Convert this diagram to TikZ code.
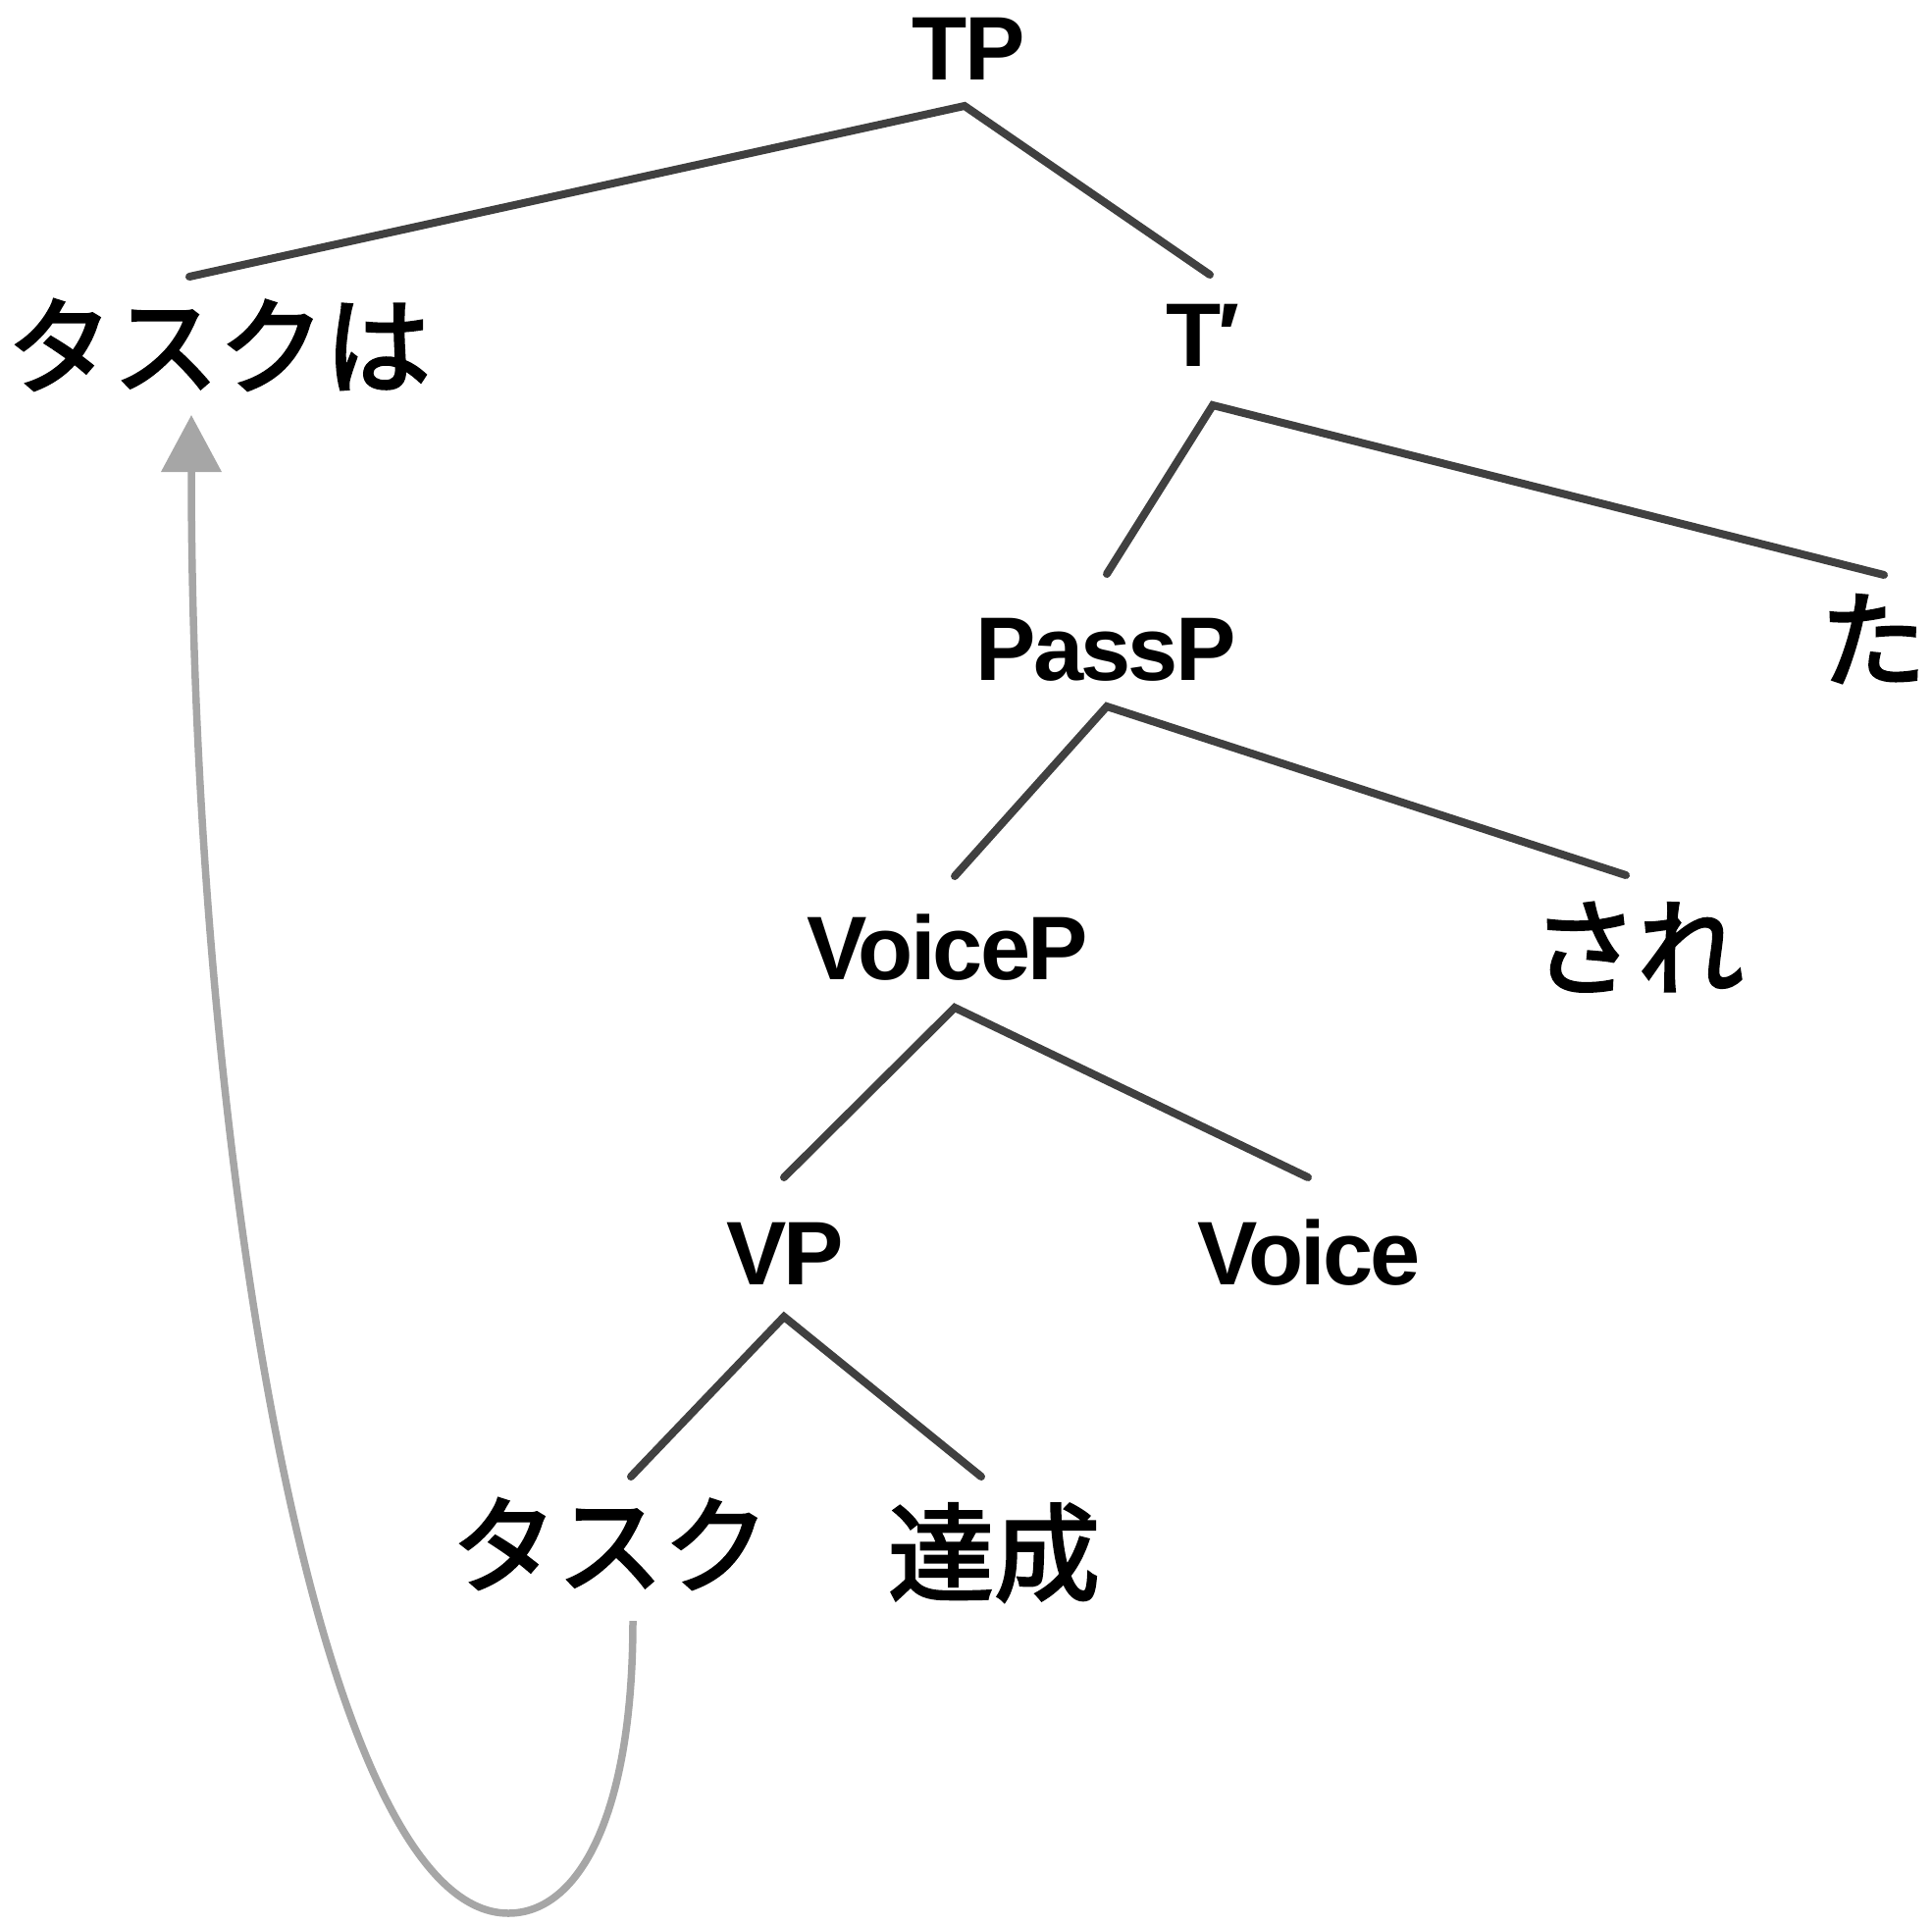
\documentclass[tikz,border=0pt]{standalone}
\usepackage{fontspec}
\setmainfont{Liberation Sans}
\newfontfamily\labfont{Liberation Sans}[LetterSpace=-3]
\newfontfamily\jpfont{Noto Sans CJK JP}[FakeBold=2.6]
\usetikzlibrary{arrows.meta}
\definecolor{branchcol}{HTML}{404040}
\definecolor{movecol}{HTML}{A6A6A6}
\tikzset{
  lab/.style={font={\labfont\bfseries\fontsize{92pt}{92pt}\selectfont}, inner sep=0pt, outer sep=0pt, text height=66pt, text depth=0pt},
  jp/.style={font={\jpfont\fontsize{108pt}{108pt}\selectfont}, inner sep=0pt, outer sep=0pt, text height=86.4pt, text depth=4.3pt},
  branch/.style={line width=8pt, draw=branchcol, line join=miter, line cap=round},
  move/.style={line width=7.5pt, draw=movecol, -{Triangle[length=58pt,width=60pt]}}
}
\begin{document}
\begin{tikzpicture}[x=1pt,y=-1pt]
\useasboundingbox (0,0) rectangle (1969,1961);
% nodes
\node[lab] (TP) at (987,49) {TP};
\node[jp] (topic) at (223,352) {タスクは};
\node[lab] (Tb) at (1226,340) {T\char"2032};
\node[lab] (PassP) at (1127,660) {PassP};
\node[jp] (ta) at (1909,651) {た};
\node[lab] (VoiceP) at (966,965) {VoiceP};
\node[jp] (sare) at (1669,965) {され};
\node[lab] (VP) at (800,1276) {VP};
\node[lab] (Voice) at (1334,1276) {Voice};
\node[jp] (task) at (622,1574) {タスク};
\node[jp] (tassei) at (1013,1582) {達成};
\coordinate (loop) at (518,1950);
% branches
\draw[branch] ([shift={(-30,-70)}]topic.center) -- ([shift={(-4,59)}]TP.center) -- ([shift={(7,-60)}]Tb.center);
\draw[branch] ([shift={(1,-75)}]PassP.center) -- ([shift={(10,73)}]Tb.center) -- ([shift={(11,-65)}]ta.center);
\draw[branch] ([shift={(7,-72)}]VoiceP.center) -- ([shift={(1,60)}]PassP.center) -- ([shift={(-12,-73)}]sare.center);
\draw[branch] ([shift={(-1,-76)}]VP.center) -- ([shift={(7,62)}]VoiceP.center) -- ([shift={(-1,-76)}]Voice.center);
\draw[branch] ([shift={(21,-69)}]task.center) -- ([shift={(-1,66)}]VP.center) -- ([shift={(-13,-77)}]tassei.center);
% movement arrow
\draw[move] ([shift={(23,78)}]task.center) .. controls (645,1850) and (590,1950) .. (loop)
  .. controls (320,1950) and (195,1150) .. ([shift={(-28,71)}]topic.center);
\end{tikzpicture}
\end{document}
